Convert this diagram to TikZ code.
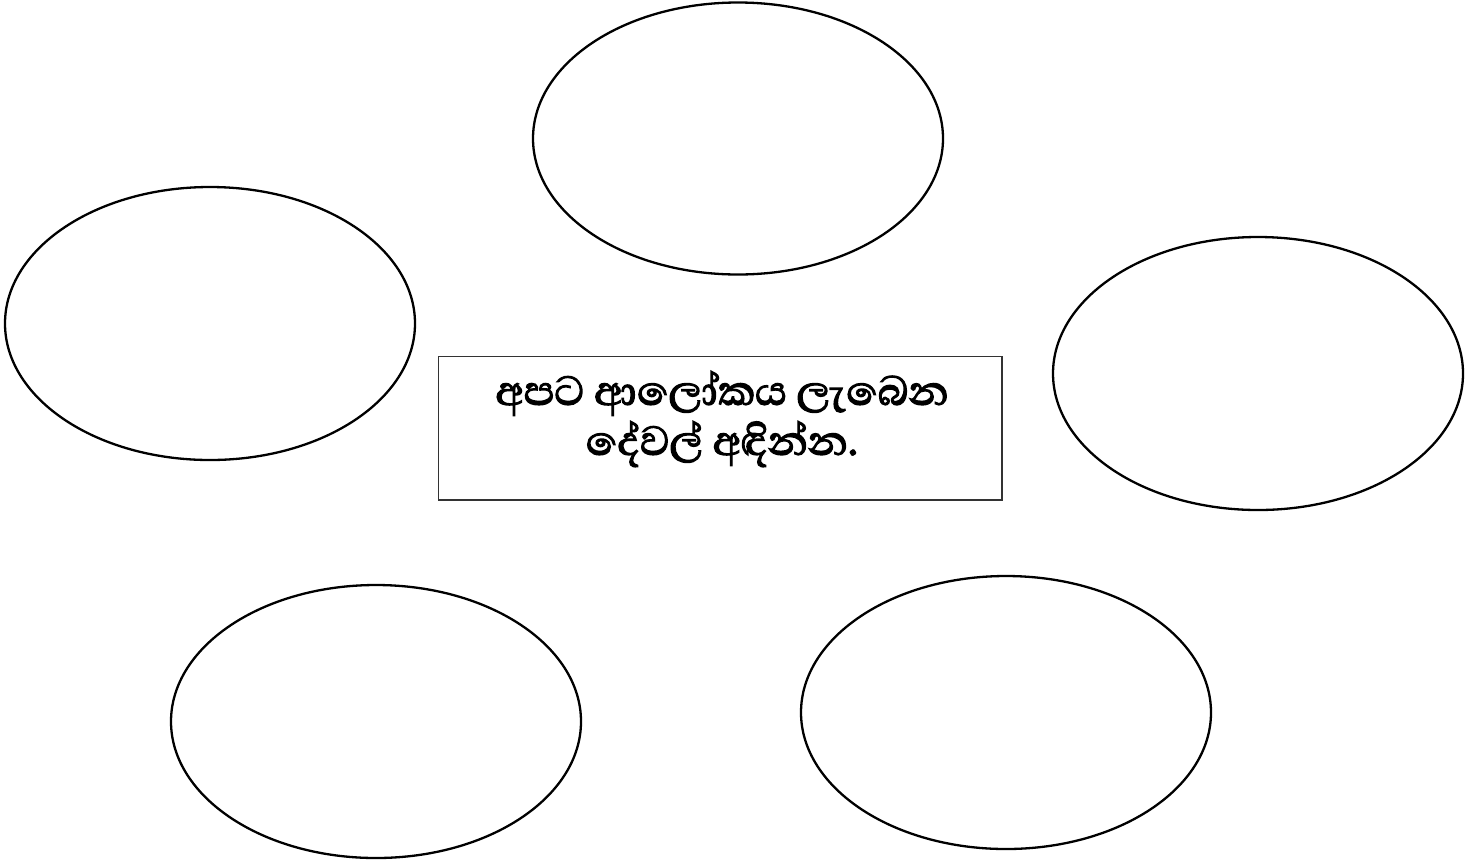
\documentclass[tikz,border=0pt]{standalone}
\usepackage{fontspec}
\newfontfamily\sinhala[Script=Sinhala,FakeBold=2.6]{Abhaya Libre}
\begin{document}
\begin{tikzpicture}[x=0.5pt,y=-0.5pt,
  oval/.style={draw=black,line width=1.15pt},
  titlebox/.style={draw=black!80,line width=0.65pt}]
\useasboundingbox (0,0) rectangle (1470,863);
\draw[oval] (738,138.5) ellipse [x radius=205, y radius=136];
\draw[oval] (210,323.5) ellipse [x radius=205, y radius=136.5];
\draw[oval] (1258,373.5) ellipse [x radius=205, y radius=136.5];
\draw[oval] (376,721.5) ellipse [x radius=205, y radius=136.5];
\draw[oval] (1006,712.5) ellipse [x radius=205, y radius=136.5];
\draw[titlebox] (438.5,356.5) rectangle (1002,500);
\node[align=center,font=\sinhala\fontsize{26}{25}\selectfont] (title) at (722,419) {අපට ආලෝකය ලැබෙන\\දේවල් අඳින්න.};
\end{tikzpicture}
\end{document}
